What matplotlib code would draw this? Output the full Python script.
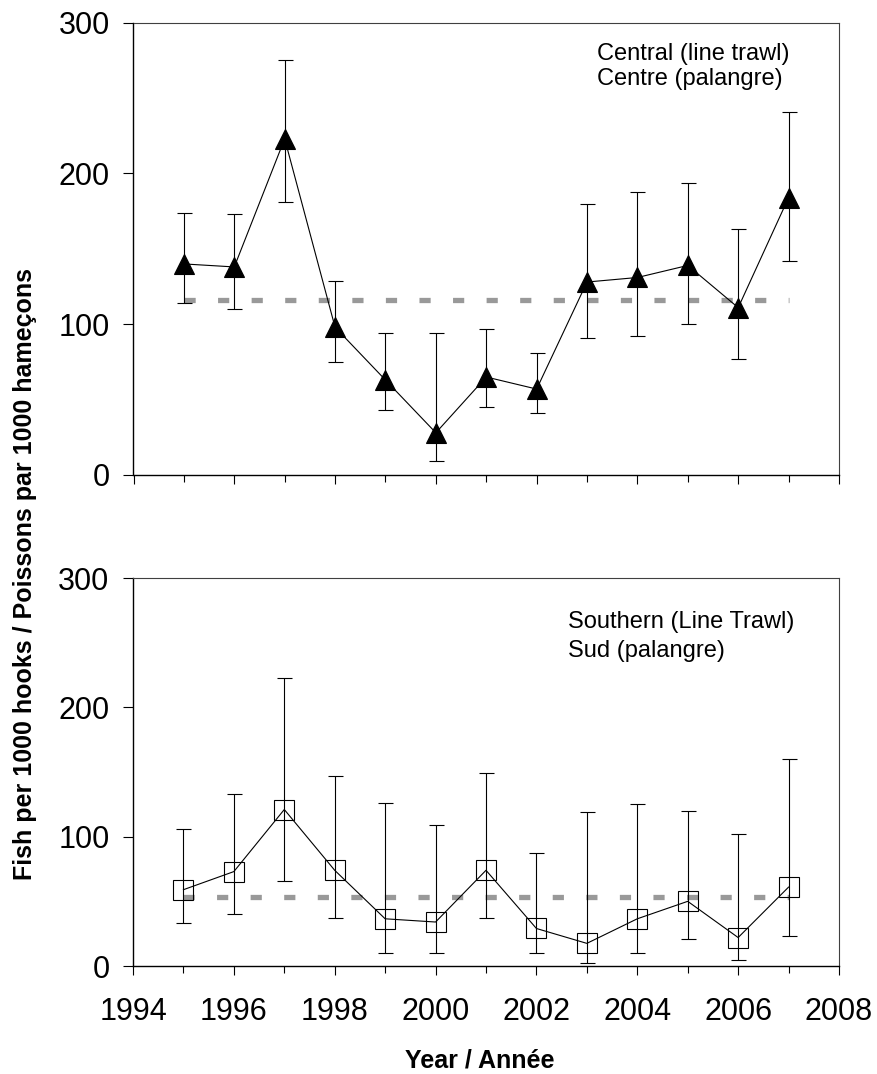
import matplotlib
matplotlib.use("Agg")
import matplotlib.pyplot as plt
import numpy as np
from matplotlib.ticker import MultipleLocator

plt.rcParams["font.family"] = ["Liberation Sans", "DejaVu Sans"]

# 数据
years = np.arange(1995, 2008)

central = np.array([140, 138, 223, 98, 63, 28, 65, 57, 128, 131, 139, 111, 184])
central_hi = np.array([174, 173, 275, 129, 94, 94, 97, 81, 180, 188, 194, 163, 241])
central_lo = np.array([114, 110, 181, 75, 43, 9, 45, 41, 91, 92, 100, 77, 142])
central_mean = 116

south = np.array([59, 73, 121, 74, 36.5, 34, 74, 29, 17.5, 36.5, 50, 22, 61])
south_hi = np.array([106, 133, 223, 147, 126, 109, 149, 87, 119, 125, 120, 102, 160])
south_lo = np.array([33, 40, 66, 37, 10, 10, 37, 10, 2, 10, 21, 5, 23])
south_mean = 53

labels_top = ["Central (line trawl)", "Centre (palangre)"]
labels_bottom = ["Southern (Line Trawl)", "Sud (palangre)"]

W, H = 878, 1074
fig = plt.figure(figsize=(W / 100, H / 100), dpi=100)

ax1 = fig.add_axes([133.5 / W, 1 - 475 / H, (839 - 133.5) / W, (475 - 22.7) / H])
ax2 = fig.add_axes([133 / W, 1 - 966 / H, (839 - 133) / W, (966 - 578) / H])


def draw_panel(ax, vals, lo, hi, mean, marker, filled):
    # 平均线
    ax.plot([years[0], years[-1]], [mean, mean], color="#999999", lw=3.8,
            dashes=(2.12, 4.24), solid_capstyle="butt", dash_capstyle="butt", zorder=1)
    # 误差线
    ax.errorbar(years, vals, yerr=[vals - lo, hi - vals], fmt="none", ecolor="black",
                elinewidth=0.8, capsize=5.4, capthick=0.8, zorder=2)
    ax.plot(years, vals, color="black", lw=0.8, marker=marker,
            markersize=14 if filled else 14.5,
            markerfacecolor="black" if filled else "none",
            markeredgecolor="black", markeredgewidth=0.8, zorder=3)

    ax.set_xlim(1994, 2008)
    ax.set_ylim(0, 300)
    ax.set_yticks([0, 100, 200, 300])
    ax.xaxis.set_major_locator(MultipleLocator(2))
    ax.xaxis.set_minor_locator(MultipleLocator(1))
    ax.tick_params(axis="y", direction="out", length=7, width=0.8, pad=10, labelsize=22)
    ax.tick_params(axis="x", which="major", direction="out", length=6.5, width=0.8,
                   pad=16, labelsize=22)
    ax.tick_params(axis="x", which="minor", direction="out", length=5, width=0.8)
    for s in ["left", "bottom"]:
        ax.spines[s].set_linewidth(1.0)
        ax.spines[s].set_color("black")
    for s in ["top", "right"]:
        ax.spines[s].set_linewidth(0.8)
        ax.spines[s].set_color("#404040")


draw_panel(ax1, central, central_lo, central_hi, central_mean, "^", True)
draw_panel(ax2, south, south_lo, south_hi, south_mean, "s", False)
ax1.tick_params(axis="x", labelbottom=False)

# 注释文字
ax1.text(0.657, 0.9175, labels_top[0], transform=ax1.transAxes, fontsize=17, va="baseline")
ax1.text(0.657, 0.862, labels_top[1], transform=ax1.transAxes, fontsize=17, va="baseline")
ax2.text(0.616, 0.870, labels_bottom[0], transform=ax2.transAxes, fontsize=17, va="baseline")
ax2.text(0.616, 0.797, labels_bottom[1], transform=ax2.transAxes, fontsize=17, va="baseline")

fig.text(31.7 / W, 1 - 880 / H, "Fish per 1000 hooks / Poissons par 1000 hameçons",
         rotation=90, rotation_mode="anchor", ha="left", va="baseline",
         fontsize=18, fontweight="bold")
fig.text(480 / W, 1 - 1068 / H, "Year / Année", ha="center", va="baseline",
         fontsize=18, fontweight="bold")

fig.savefig("out.png", dpi=100)
